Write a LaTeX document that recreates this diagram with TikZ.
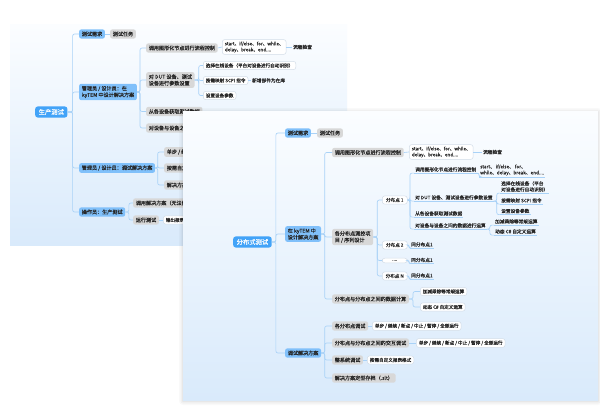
\documentclass[tikz,border=0pt]{standalone}
\usepackage{fontspec}
\setmainfont{Noto Sans CJK SC}[FakeBold=0.2]
\definecolor{rootblue}{HTML}{42A3F8}
\definecolor{lblue}{HTML}{80C0FA}
\definecolor{gbg}{HTML}{D8D8D8}
\definecolor{lineblue}{HTML}{A9D2F7}
\definecolor{wborder}{HTML}{D3DDE8}
\definecolor{txt}{HTML}{262626}
\definecolor{panelbot}{HTML}{D9EAFB}
\definecolor{paneltop}{HTML}{FBFDFF}
\tikzset{
  rootnode/.style={fill=rootblue,text=white,rounded corners=2.5pt,inner xsep=3.5pt,inner ysep=2.6pt,font=\fontsize{6.3}{7.5}\selectfont,anchor=west},
  lone/.style={fill=lblue,text=txt,rounded corners=2pt,inner xsep=2.6pt,inner ysep=2.2pt,align=left,font=\fontsize{5.1}{6.5}\selectfont,anchor=west},
  gbox/.style={fill=gbg,text=txt,rounded corners=2pt,inner xsep=2.6pt,inner ysep=2.2pt,align=left,font=\fontsize{5.1}{6.5}\selectfont,anchor=west},
  wbox/.style={fill=white,draw=wborder,line width=0.5pt,text=txt,rounded corners=2.5pt,inner xsep=2.6pt,inner ysep=2pt,align=left,font=\fontsize{4.6}{6}\selectfont,anchor=west},
  plain/.style={text=txt,inner sep=1pt,align=left,font=\fontsize{4.7}{6}\selectfont,anchor=west},
  ulnode/.style={text=txt,inner xsep=1pt,inner ysep=1.2pt,align=left,font=\fontsize{4.7}{6}\selectfont,anchor=west,
    append after command={(\tikzlastnode.south west) edge[draw=lineblue,line width=0.6pt] (\tikzlastnode.south east)}},
  conn/.style={draw=lineblue,line width=0.65pt,rounded corners=2pt},
}
\newcommand\elb[3]{\draw[conn] (#1.east) -- ++(#3,0) |- (#2.west);}
\newcommand\elbu[3]{\draw[conn] (#1.east) -- ++(#3,0) |- (#2.south west);}
\newcommand\uelbu[3]{\draw[conn] (#1.south east) -- ++(#3,0) |- (#2.south west);}
\begin{document}
\begin{tikzpicture}[x=1pt,y=-1pt]
\useasboundingbox (0,0) rectangle (600,412);
\fill[white] (0,0) rectangle (600,412);
% ---------------- back panel ----------------
\shade[top color=paneltop,bottom color=panelbot] (10,25) rectangle (347,245);
\node[rootnode] (broot) at (35,112) {生产测试};
\node[lone] (b1) at (79,34) {测试需求};
\node[lone] (b2) at (79,92) {管理员 / 设计员：在\\kyTEM 中设计解决方案};
\node[lone] (b3) at (79,168) {管理员 / 设计员：调试解决方案};
\node[lone] (b4) at (79,212) {操作员：生产测试};
\node[gbox] (b11) at (110,34) {测试任务};
\node[gbox] (b21) at (146,48) {调用图形化节点进行流程控制};
\node[wbox] (b211) at (222,47) {start、if/else、for、while、\\delay、break、end....};
\node[plain] (b2111) at (292,47) {流程检查};
\node[gbox] (b22) at (146,80) {对 DUT 设备、测试\\设备进行参数设置};
\node[wbox] (b221) at (203,65.5) {选择在线设备（平台对设备进行自动识别）};
\node[wbox] (b222) at (203,80.5) {按需映射 SCPI 指令};
\node[plain] (b2221) at (251,80.5) {新增部件为在库};
\node[wbox] (b223) at (203,95.5) {设置设备参数};
\node[gbox] (b23) at (146,111.5) {从各设备获取测试数据};
\node[gbox] (b24) at (146,128) {对设备与设备之间的数据进行运算};
\node[gbox] (b31) at (164,152) {单步 / 继续 / 断点 / 中止 / 暂停 / 全部运行};
\node[gbox] (b32) at (164,168) {按需自定义报表格式};
\node[gbox] (b33) at (164,185) {解决方案定型存档（.slt）};
\node[gbox] (b41) at (133,203) {调用解决方案（无法修改）};
\node[gbox] (b42) at (133,220) {运行测试};
\node[wbox] (b421) at (163,220) {输出报表};
\foreach \c in {b1,b2,b3,b4}{\elb{broot}{\c}{5}}
\draw[conn] (b1.east) -- (b11.west);
\foreach \c in {b21,b22,b23,b24}{\elb{b2}{\c}{3}}
\draw[conn] (b21.east) -- (b211.west);
\draw[conn] (b211.east) -- (b2111.west);
\foreach \c in {b221,b222,b223}{\elb{b22}{\c}{4}}
\draw[conn] (b222.east) -- (b2221.west);
\foreach \c in {b31,b32,b33}{\elb{b3}{\c}{2.5}}
\foreach \c in {b41,b42}{\elb{b4}{\c}{3.5}}
\draw[conn] (b42.east) -- (b421.west);
% ---------------- front panel ----------------
\foreach \e/\o in {4/0.025,2.5/0.03,1.2/0.04}{\fill[black,opacity=\o,rounded corners=\e pt] (183-\e,111-\e+1) rectangle (598+\e,400+\e+1);}
\shade[top color=paneltop,bottom color=panelbot] (183,111) rectangle (598,400);
\node[rootnode] (froot) at (233,242) {分布式测试};
\node[lone] (f1) at (285,133) {测试需求};
\node[gbox] (f11) at (317,133) {测试任务};
\node[lone] (f2) at (285,234) {在 kyTEM 中\\设计解决方案};
\node[lone] (f3) at (285,353) {调试解决方案};
\node[gbox] (f21) at (332,152.5) {调用图形化节点进行流程控制};
\node[wbox] (f211) at (409,152) {start、if/else、for、while、\\delay、break、end....};
\node[plain] (f2111) at (482,152) {流程检查};
\node[gbox] (f22) at (332,237) {各分布点测控项\\目 / 序列设计};
\node[gbox] (f23) at (332,299) {分布点与分布点之间的数据计算};
\node[wbox] (f231) at (420,291.5) {加减乘除等常规运算};
\node[wbox] (f232) at (420,307) {动态 C\# 自定义运算};
\node[wbox,minimum width=25pt] (f221) at (382,200) {分布点 1};
\node[wbox,minimum width=25pt] (f222) at (382,245) {分布点 2};
\node[wbox,minimum width=25pt] (f223) at (382,260.5) {....};
\node[wbox,minimum width=25pt] (f224) at (382,276) {分布点 N};
\node[ulnode] (f2221) at (410,244.5) {同分布点1};
\node[ulnode] (f2231) at (410,260) {同分布点1};
\node[ulnode] (f2241) at (410,275.5) {同分布点1};
\node[ulnode] (f2211) at (414,169.5) {调用图形化节点进行流程控制};
\node[ulnode] (f22111) at (479,170) {start、 if/else、 for、\\while、delay、break、end....};
\node[ulnode] (f2212) at (414,197.5) {对 DUT 设备、测试设备进行参数设置};
\node[ulnode] (f22121) at (500,186.5) {选择在线设备（平台\\对设备进行自动识别）};
\node[ulnode] (f22122) at (500,200.5) {按需映射 SCPI 指令};
\node[ulnode] (f22123) at (500,211) {设置设备参数};
\node[ulnode] (f2213) at (414,213.5) {从各设备获取测试数据};
\node[ulnode] (f2214) at (414,225.5) {对设备与设备之间的数据进行运算};
\node[ulnode] (f22141) at (494,221.5) {加减乘除等常规运算};
\node[ulnode] (f22142) at (494,231.5) {动态 C\# 自定义运算};
\node[gbox] (f31) at (332,326) {各分布点调试};
\node[wbox] (f311) at (372,326) {单步 / 继续 / 断点 / 中止 / 暂停 / 全部运行};
\node[gbox] (f32) at (332,343) {分布点与分布点之间的交互调试};
\node[wbox] (f321) at (416,343) {单步 / 继续 / 断点 / 中止 / 暂停 / 全部运行};
\node[gbox] (f33) at (332,360) {整系统调试};
\node[wbox] (f331) at (367,360) {按需自定义报表格式};
\node[gbox] (f34) at (332,378) {解决方案定型存档（.slt）};
\foreach \c in {f1,f2,f3}{\elb{froot}{\c}{4}}
\draw[conn] (f1.east) -- (f11.west);
\foreach \c in {f21,f22,f23}{\elb{f2}{\c}{3.5}}
\draw[conn] (f21.east) -- (f211.west);
\draw[conn] (f211.east) -- (f2111.west);
\foreach \c in {f221,f222,f223,f224}{\elb{f22}{\c}{4}}
\elbu{f222}{f2221}{1.5}
\elbu{f223}{f2231}{1.5}
\elbu{f224}{f2241}{1.5}
\foreach \c in {f2211,f2212,f2213,f2214}{\elbu{f221}{\c}{2.5}}
\uelbu{f2211}{f22111}{1.5}
\foreach \c in {f22121,f22122,f22123}{\uelbu{f2212}{\c}{3}}
\foreach \c in {f22141,f22142}{\uelbu{f2214}{\c}{3}}
\foreach \c in {f231,f232}{\elb{f23}{\c}{4}}
\foreach \c in {f31,f32,f33,f34}{\elb{f3}{\c}{3.5}}
\draw[conn] (f31.east) -- (f311.west);
\draw[conn] (f32.east) -- (f321.west);
\draw[conn] (f33.east) -- (f331.west);
\end{tikzpicture}
\end{document}
